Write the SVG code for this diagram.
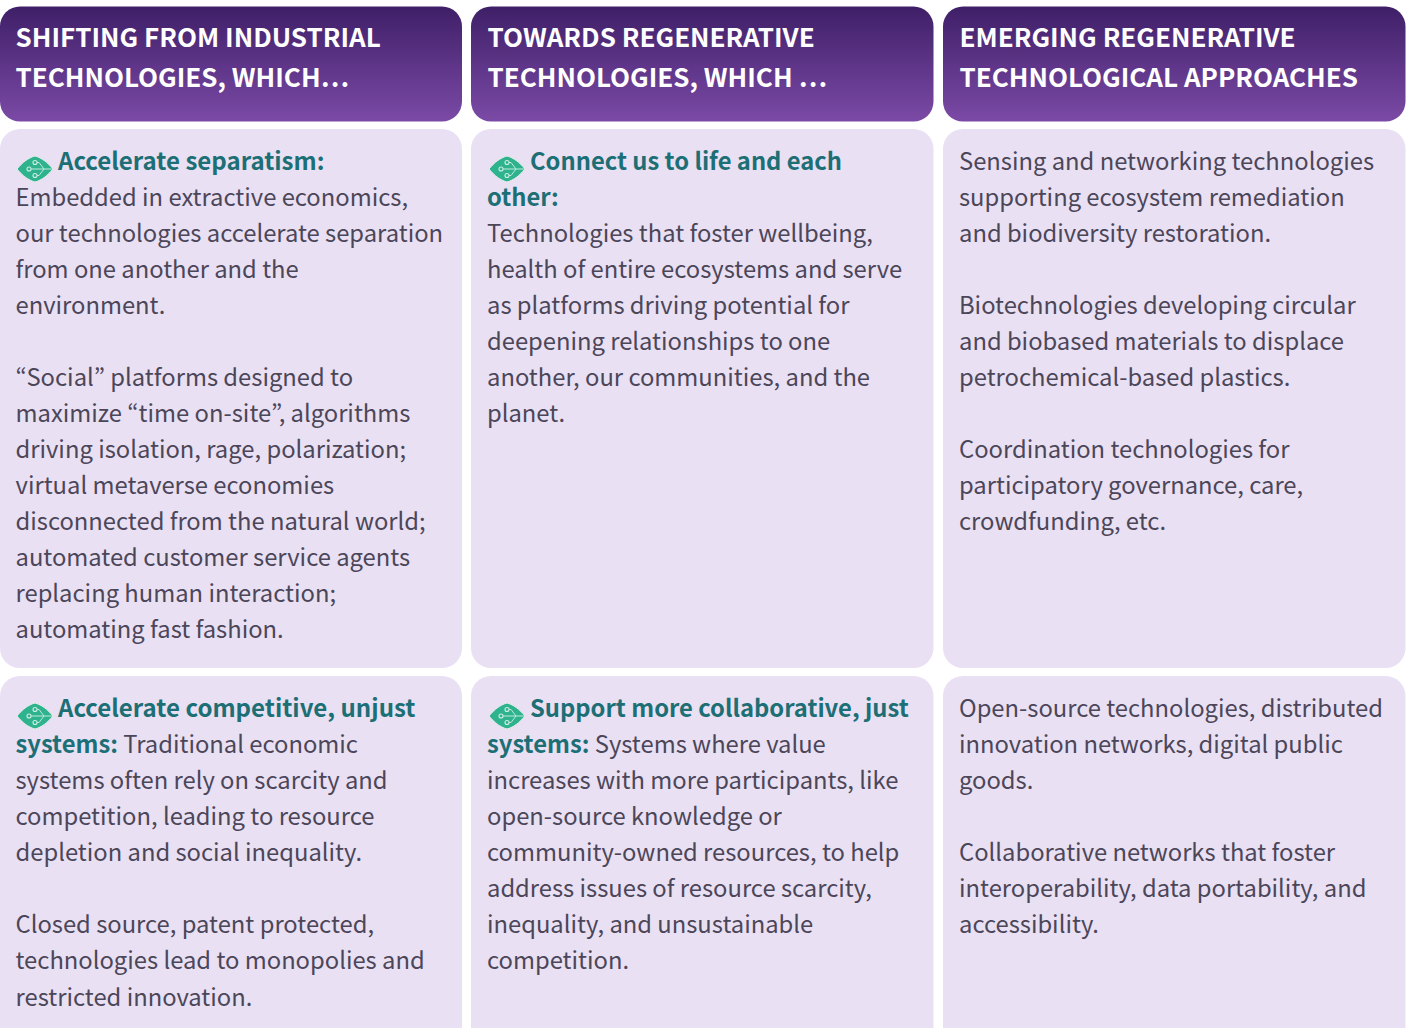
<svg xmlns="http://www.w3.org/2000/svg" xmlns:xlink="http://www.w3.org/1999/xlink" width="1411" height="1028" viewBox="0 0 1411 1028">
<style>
text{font-family:"Noto Sans CJK KR","Noto Sans CJK SC","Noto Sans",sans-serif;}
.h{font-size:26px;font-weight:700;fill:#fff;}
.t{font-size:23.780px;fill:#4c4659}
.b{font-weight:700;fill:#1c6f75}
.l{font-size:24.050px}
.r{font-size:23.750px}
.p{fill:#e9e0f3}
</style>
<defs>
<linearGradient id="g" x1="0" y1="0" x2="0" y2="1"><stop offset="0" stop-color="#3f1f68"/><stop offset="1" stop-color="#7b4aa6"/></linearGradient>
<g id="leaf"><path d="M0 13C6 6 11 2 18 0C25 2 30 6 36 13C30 20 25 24 18 26C11 24 6 20 0 13Z" fill="#2fb38e" stroke="#e2ece8" stroke-width="1"/><path d="M14 13H35M20 6.500h2l5 6.500-5 6.500h-2" fill="none" stroke="#bfe9da" stroke-width="1"/><circle cx="12" cy="13" r="2" fill="none" stroke="#cdeee2" stroke-width="1.100"/><circle cx="18" cy="6.500" r="2" fill="none" stroke="#cdeee2" stroke-width="1.100"/><circle cx="18" cy="19.500" r="2" fill="none" stroke="#cdeee2" stroke-width="1.100"/></g>
</defs>
<g id="connectors"/>
<g id="head1"><rect x="0" y="6.500" width="462" height="115" rx="20" fill="url(#g)"/><text class="h" x="15.500" y="46.500">SHIFTING FROM INDUSTRIAL</text><text class="h" x="15.500" y="86.500">TECHNOLOGIES, WHICH…</text></g>
<g id="head2"><rect x="471" y="6.500" width="462.500" height="115" rx="20" fill="url(#g)"/><text class="h" x="487.500" y="46.500">TOWARDS REGENERATIVE</text><text class="h" x="487.500" y="86.500">TECHNOLOGIES, WHICH …</text></g>
<g id="head3"><rect x="943" y="6.500" width="462.500" height="115" rx="20" fill="url(#g)"/><text class="h" x="959.500" y="46.500">EMERGING REGENERATIVE</text><text class="h" x="959.500" y="86.500">TECHNOLOGICAL APPROACHES</text></g>
<g id="cell1"><rect class="p" x="0" y="129" width="462" height="539" rx="20"/><use xlink:href="#leaf" x="17" y="156"/>
<text class="t"><tspan class="b l" x="58" y="170">Accelerate separatism:</tspan><tspan x="15.500" y="206">Embedded in extractive economics,</tspan><tspan x="15.500" y="242">our technologies accelerate separation</tspan><tspan x="15.500" y="278">from one another and the</tspan><tspan x="15.500" y="314">environment.</tspan><tspan x="15.500" y="386">“Social” platforms designed to</tspan><tspan x="15.500" y="422">maximize “time on-site”, algorithms</tspan><tspan x="15.500" y="458">driving isolation, rage, polarization;</tspan><tspan x="15.500" y="494">virtual metaverse economies</tspan><tspan x="15.500" y="530">disconnected from the natural world;</tspan><tspan x="15.500" y="566">automated customer service agents</tspan><tspan x="15.500" y="602">replacing human interaction;</tspan><tspan x="15.500" y="638">automating fast fashion.</tspan></text></g>
<g id="cell2"><rect class="p" x="471" y="129" width="462.500" height="539" rx="20"/><use xlink:href="#leaf" x="489" y="156"/>
<text class="t"><tspan class="b r" x="530" y="170">Connect us to life and each</tspan><tspan class="b r" x="487" y="206">other:</tspan><tspan x="487" y="242">Technologies that foster wellbeing,</tspan><tspan x="487" y="278">health of entire ecosystems and serve</tspan><tspan x="487" y="314">as platforms driving potential for</tspan><tspan x="487" y="350">deepening relationships to one</tspan><tspan x="487" y="386">another, our communities, and the</tspan><tspan x="487" y="422">planet.</tspan></text></g>
<g id="cell3"><rect class="p" x="943" y="129" width="462.500" height="539" rx="20"/>
<text class="t"><tspan x="959" y="170">Sensing and networking technologies</tspan><tspan x="959" y="206">supporting ecosystem remediation</tspan><tspan x="959" y="242">and biodiversity restoration.</tspan><tspan x="959" y="314">Biotechnologies developing circular</tspan><tspan x="959" y="350">and biobased materials to displace</tspan><tspan x="959" y="386">petrochemical-based plastics.</tspan><tspan x="959" y="458">Coordination technologies for</tspan><tspan x="959" y="494">participatory governance, care,</tspan><tspan x="959" y="530">crowdfunding, etc.</tspan></text></g>
<g id="cell4"><rect class="p" x="0" y="676" width="462" height="380" rx="20"/><use xlink:href="#leaf" x="17" y="703"/>
<text class="t"><tspan class="b l" x="58" y="717">Accelerate competitive, unjust</tspan><tspan class="b" x="15.500" y="753">systems:</tspan><tspan> Traditional economic</tspan><tspan x="15.500" y="789">systems often rely on scarcity and</tspan><tspan x="15.500" y="825">competition, leading to resource</tspan><tspan x="15.500" y="861">depletion and social inequality.</tspan><tspan x="15.500" y="933">Closed source, patent protected,</tspan><tspan x="15.500" y="969">technologies lead to monopolies and</tspan><tspan x="15.500" y="1006">restricted innovation.</tspan></text></g>
<g id="cell5"><rect class="p" x="471" y="676" width="462.500" height="380" rx="20"/><use xlink:href="#leaf" x="489" y="703"/>
<text class="t"><tspan class="b" x="530" y="717">Support more collaborative, just</tspan><tspan class="b" x="487" y="753">systems:</tspan><tspan> Systems where value</tspan><tspan x="487" y="789">increases with more participants, like</tspan><tspan x="487" y="825">open-source knowledge or</tspan><tspan x="487" y="861">community-owned resources, to help</tspan><tspan x="487" y="897">address issues of resource scarcity,</tspan><tspan x="487" y="933">inequality, and unsustainable</tspan><tspan x="487" y="969">competition.</tspan></text></g>
<g id="cell6"><rect class="p" x="943" y="676" width="462.500" height="380" rx="20"/>
<text class="t"><tspan x="959" y="717">Open-source technologies, distributed</tspan><tspan x="959" y="753">innovation networks, digital public</tspan><tspan x="959" y="789">goods.</tspan><tspan x="959" y="861">Collaborative networks that foster</tspan><tspan x="959" y="897">interoperability, data portability, and</tspan><tspan x="959" y="933">accessibility.</tspan></text></g>
</svg>
